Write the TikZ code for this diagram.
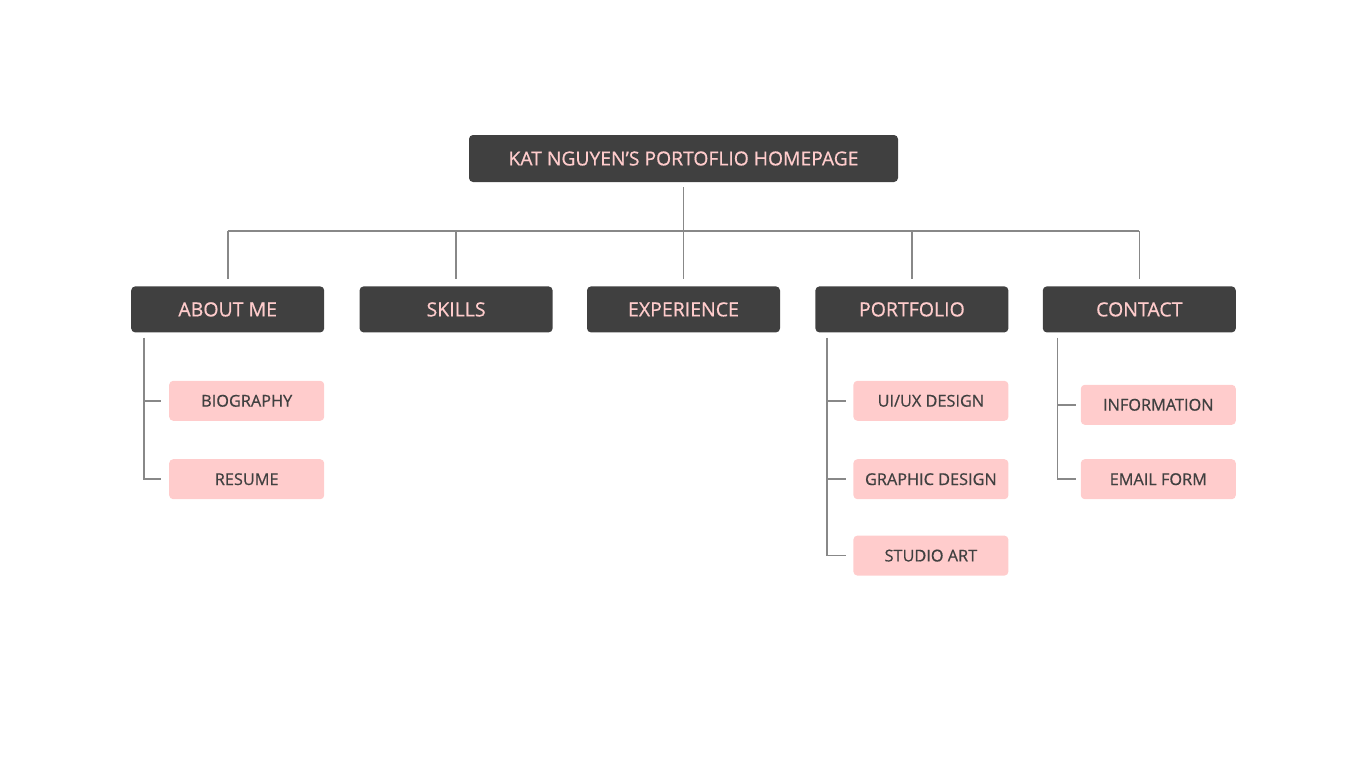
\documentclass[tikz,border=0pt]{standalone}
\usepackage{fontspec}
\setmainfont{Open Sans}
\newfontfamily\semibold{Open Sans}[FakeBold=0.6]
\usepackage{xcolor}
\usepackage{tikz}
\usetikzlibrary{positioning}
\definecolor{boxdark}{RGB}{64,64,64}
\definecolor{blushpink}{RGB}{255,204,204}
\definecolor{linkgray}{RGB}{136,136,136}

\begin{document}
\begin{tikzpicture}[x=1pt, y=-1pt,
  mainbox/.style={fill=boxdark, text=blushpink, rounded corners=4pt, minimum width=193pt, minimum height=46pt, inner sep=0pt, font=\semibold\fontsize{19.5}{22}\selectfont},
  subbox/.style={fill=blushpink, text=boxdark, rounded corners=4pt, minimum width=155pt, minimum height=40pt, inner sep=0pt, font=\semibold\fontsize{16.3}{18}\selectfont},
  link/.style={draw=linkgray, line width=1.6pt}]
  \useasboundingbox (0,0) rectangle (1366,768);

  \node[mainbox, minimum width=429pt, minimum height=47pt, font=\semibold\fontsize{19.3}{22}\selectfont] (home) at (683.5,158.5) {KAT NGUYEN’S PORTOFLIO HOMEPAGE};
  \node[mainbox, below=104pt of home] (experience) {EXPERIENCE};
  \node[mainbox, left=34pt of experience] (skills) {SKILLS};
  \node[mainbox, left=35pt of skills] (about) {ABOUT ME};
  \node[mainbox, right=35pt of experience] (portfolio) {PORTFOLIO};
  \node[mainbox, right=34pt of portfolio] (contact) {CONTACT};

  \node[subbox, below=48pt of about.south east, anchor=north east] (biography) {BIOGRAPHY};
  \node[subbox, below=38pt of biography] (resume) {RESUME};
  \node[subbox, below=48pt of portfolio.south east, anchor=north east] (uiux) {UI/UX DESIGN};
  \node[subbox, below=38pt of uiux] (graphic) {GRAPHIC DESIGN};
  \node[subbox, below=36pt of graphic] (studio) {STUDIO ART};
  \node[subbox, below=52pt of contact.south east, anchor=north east] (information) {INFORMATION};
  \node[subbox, below=34pt of information] (email) {EMAIL FORM};

  % tree from the homepage
  \coordinate (bus) at (683.5,231);
  \draw[link] ([yshift=-5pt]home.south) -- (bus);
  \draw[link] (about.north |- bus) -- (contact.north |- bus);
  \draw[link] (about.north |- bus) -- ([yshift=7pt]about.north);
  \draw[link] (skills.north |- bus) -- ([yshift=7pt]skills.north);
  \draw[link] (experience.north |- bus) -- ([yshift=7pt]experience.north);
  \draw[link] (portfolio.north |- bus) -- ([yshift=7pt]portfolio.north);
  \draw[link] (contact.north |- bus) -- ([yshift=7pt]contact.north);

  % sub pages
  \draw[link] ([xshift=13pt,yshift=-5pt]about.south west) coordinate (aboutspine) |- ([xshift=-8pt]resume.west);
  \draw[link] (aboutspine |- biography.west) -- ([xshift=-8pt]biography.west);
  \draw[link] ([xshift=12pt,yshift=-5pt]portfolio.south west) coordinate (portspine) |- ([xshift=-7pt]studio.west);
  \draw[link] (portspine |- uiux.west) -- ([xshift=-7pt]uiux.west);
  \draw[link] (portspine |- graphic.west) -- ([xshift=-7pt]graphic.west);
  \draw[link] ([xshift=15pt,yshift=-5pt]contact.south west) coordinate (contspine) |- ([xshift=-5pt]email.west);
  \draw[link] (contspine |- information.west) -- ([xshift=-5pt]information.west);
\end{tikzpicture}
\end{document}
